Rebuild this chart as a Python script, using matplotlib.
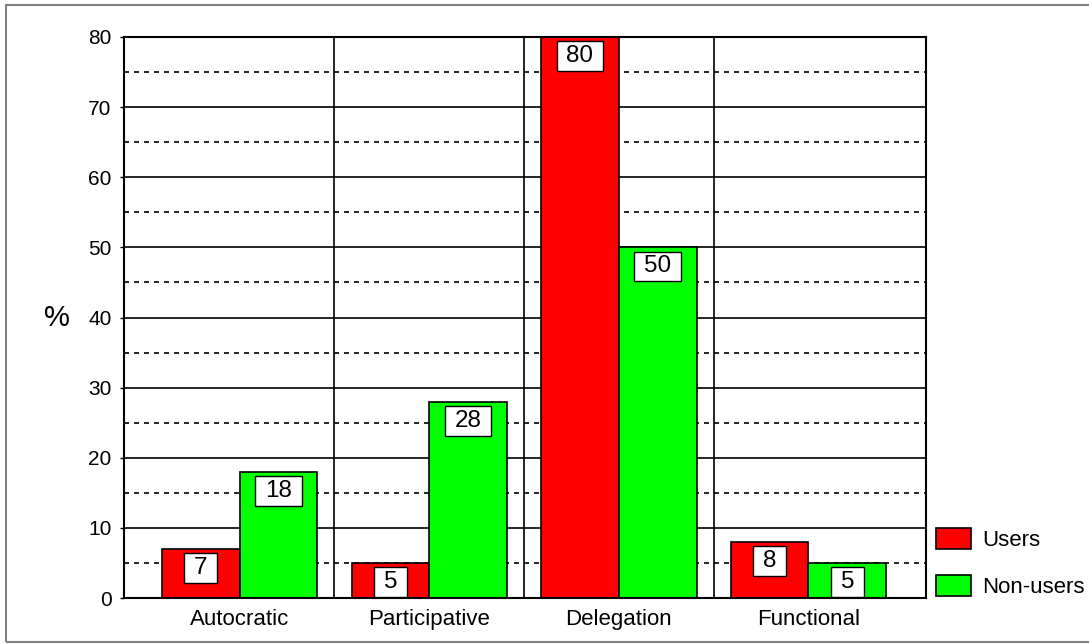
import matplotlib
matplotlib.use("Agg")
import matplotlib.pyplot as plt
from matplotlib.patches import Rectangle, Patch
from matplotlib.path import Path
import numpy as np

# Data
categories = ["Autocratic", "Participative", "Delegation", "Functional"]
users = [7, 5, 80, 8]
non_users = [18, 28, 50, 5]
series_names = ["Users", "Non-users"]
y_ticks = [0, 10, 20, 30, 40, 50, 60, 70, 80]

plt.rcParams["font.family"] = ["Liberation Sans", "DejaVu Sans"]

fig = plt.figure(figsize=(10.89, 6.44), dpi=100)
ax = fig.add_axes([124 / 1089, 1 - 598 / 644, (926 - 124) / 1089, (598 - 37) / 644])

x = np.arange(len(categories))
w = 0.41

# Grid: solid at tens, dashed at fives, vertical separators between groups
for v in range(10, 80, 10):
    ax.axhline(v, color="black", lw=1.2, zorder=0.5)
for v in range(5, 80, 10):
    ax.axhline(v, color="black", lw=1.2, ls=(0, (3, 3)), zorder=0.5)
for s in x[:-1] + 0.5:
    ax.axvline(s, color="black", lw=1.2, zorder=0.5)

bars_u = ax.bar(x - w / 2, users, w, color="#ff0000", edgecolor="black", lw=1.2, zorder=2)
bars_n = ax.bar(x + w / 2, non_users, w, color="#00ff00", edgecolor="black", lw=1.2, zorder=2)


def label_box(x0, y0, width, height, mutation_size):
    hp = 0.40 * mutation_size
    vp = 0.16 * mutation_size
    x0, y0 = x0 - hp, y0 - vp
    x1, y1 = x0 + width + 2 * hp, y0 + height + 2 * vp
    return Path([(x0, y0), (x1, y0), (x1, y1), (x0, y1), (x0, y0)],
                [Path.MOVETO, Path.LINETO, Path.LINETO, Path.LINETO, Path.CLOSEPOLY])


for bars, vals in ((bars_u, users), (bars_n, non_users)):
    for b, v in zip(bars, vals):
        ax.annotate(str(v), xy=(b.get_x() + b.get_width() / 2, v),
                    xytext=(0, -5.8), textcoords="offset points",
                    ha="center", va="top", fontsize=17.5, zorder=5,
                    bbox=dict(boxstyle=label_box, fc="white", ec="black", lw=1))

ax.set_xlim(-0.61, 3.62)
ax.set_ylim(0, 80)
ax.set_yticks(y_ticks)
ax.set_yticklabels([str(t) for t in y_ticks], fontsize=15)
ax.set_xticks(x)
ax.set_xticklabels(categories, fontsize=16)
ax.tick_params(axis="x", length=0, pad=8)
ax.tick_params(axis="y", length=3, width=1, pad=6, direction="out")
for sp in ax.spines.values():
    sp.set_linewidth(1.5)

fig.text(57 / 1089, 1 - 318 / 644, "%", fontsize=21, ha="center", va="center")

handles = [Patch(fc="#ff0000", ec="black", lw=1.2), Patch(fc="#00ff00", ec="black", lw=1.2)]
ax.legend(handles, series_names, loc="lower left", bbox_to_anchor=(1.0125, 0.0),
          frameon=False, fontsize=16, borderpad=0, borderaxespad=0,
          handlelength=1.58, handleheight=1.08, labelspacing=1.08, handletextpad=0.5)

# Outer frame
fig.patches.append(Rectangle((6 / 1089, 1 - 642 / 644), 1.2, (642 - 5) / 644,
                             transform=fig.transFigure, fill=False,
                             ec="#808080", lw=1.5, zorder=0))

fig.savefig("out.png", dpi=100)
